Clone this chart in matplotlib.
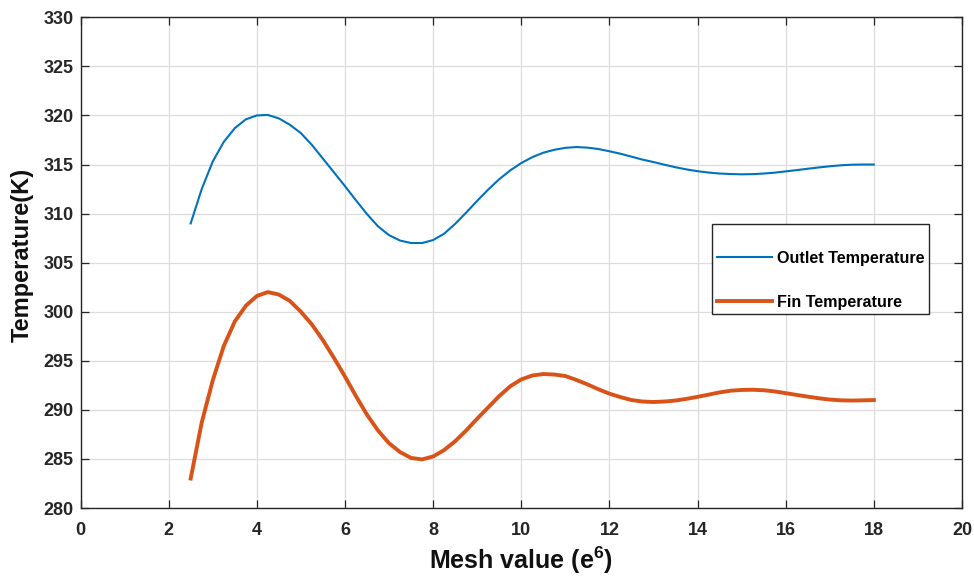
import matplotlib
matplotlib.use("Agg")
import matplotlib.pyplot as plt
from matplotlib.patches import Rectangle

plt.rcParams['font.family'] = ['Liberation Sans', 'DejaVu Sans']
plt.rcParams['mathtext.fontset'] = 'custom'
plt.rcParams['mathtext.rm'] = 'Liberation Sans:bold'
plt.rcParams['mathtext.bf'] = 'Liberation Sans:bold'
plt.rcParams['mathtext.it'] = 'Liberation Sans:bold'

mesh = [2.5, 2.75, 3.0, 3.25, 3.5, 3.75, 4.0, 4.25, 4.5, 4.75, 5.0, 5.25, 5.5, 5.75,
        6.0, 6.25, 6.5, 6.75, 7.0, 7.25, 7.5, 7.75, 8.0, 8.25, 8.5, 8.75, 9.0, 9.25,
        9.5, 9.75, 10.0, 10.25, 10.5, 10.75, 11.0, 11.25, 11.5, 11.75, 12.0, 12.25,
        12.5, 12.75, 13.0, 13.25, 13.5, 13.75, 14.0, 14.25, 14.5, 14.75, 15.0, 15.25,
        15.5, 15.75, 16.0, 16.25, 16.5, 16.75, 17.0, 17.25, 17.5, 17.75, 18.0]

outlet_temp = [309.0, 312.5, 315.3, 317.3, 318.7, 319.6, 320.0, 320.05, 319.7, 319.05,
               318.2, 317.0, 315.6, 314.2, 312.8, 311.35, 309.95, 308.7, 307.8, 307.25,
               307.0, 307.0, 307.3, 307.95, 308.95, 310.1, 311.3, 312.45, 313.5, 314.4,
               315.15, 315.75, 316.2, 316.5, 316.7, 316.78, 316.72, 316.58, 316.35, 316.1,
               315.8, 315.5, 315.25, 314.98, 314.72, 314.5, 314.32, 314.18, 314.08, 314.03,
               314.0, 314.02, 314.08, 314.17, 314.3, 314.43, 314.57, 314.7, 314.82, 314.92,
               314.98, 315.0, 315.0]

fin_temp = [283.0, 288.7, 293.0, 296.5, 299.0, 300.6, 301.6, 302.0, 301.75, 301.1,
            300.0, 298.7, 297.1, 295.3, 293.4, 291.4, 289.5, 287.9, 286.6, 285.7,
            285.1, 284.95, 285.25, 285.9, 286.8, 287.9, 289.1, 290.25, 291.4, 292.4,
            293.1, 293.5, 293.65, 293.6, 293.45, 293.05, 292.6, 292.1, 291.65, 291.3,
            291.0, 290.85, 290.8, 290.85, 290.95, 291.12, 291.33, 291.55, 291.78, 291.95,
            292.03, 292.05, 292.0, 291.88, 291.7, 291.52, 291.35, 291.18, 291.05, 290.97,
            290.95, 290.97, 291.0]

x_ticks = [0, 2, 4, 6, 8, 10, 12, 14, 16, 18, 20]
y_ticks = [280, 285, 290, 295, 300, 305, 310, 315, 320, 325, 330]
series_labels = ['Outlet Temperature', 'Fin Temperature']

W, H = 974, 578
fig = plt.figure(figsize=(W / 100, H / 100), dpi=100)
ax = fig.add_axes([80.5 / W, 1 - 508 / H, (962 - 80.5) / W, (508 - 17.3) / H])

ax.plot(mesh, outlet_temp, color='#0072BD', lw=1.5, label=series_labels[0])
ax.plot(mesh, fin_temp, color='#D95319', lw=2.8, label=series_labels[1])

ax.set_xlim(0, 20)
ax.set_ylim(280, 330)
ax.set_xticks(x_ticks)
ax.set_yticks(y_ticks)

ax.grid(True, color='#dcdcdc', lw=0.9)
ax.set_axisbelow(True)

for s in ax.spines.values():
    s.set_color('#262626')
    s.set_linewidth(1.0)

ax.tick_params(axis='both', which='both', direction='in', length=6, width=0.9,
               color='#262626', top=True, right=True, labelsize=13,
               labelcolor='#262626')
ax.tick_params(axis='x', pad=10)
ax.tick_params(axis='y', pad=5)
for lbl in ax.get_xticklabels() + ax.get_yticklabels():
    lbl.set_fontweight('bold')

ax.set_xlabel(r'Mesh value (e$^{6}$)', fontsize=18, fontweight='bold', color='#111111')
ax.xaxis.set_label_coords(0.4997, (508 - 578) / 490.7 + 0.005)
ax.xaxis.label.set_va('bottom')
ax.set_ylabel('Temperature(K)', fontsize=17, fontweight='bold', color='#111111')
ax.yaxis.set_label_coords((34 - 80.5) / 881.5, 0.515)

# legend box (MATLAB style, extra space above entries)
rect = Rectangle((712 / W, 1 - 314 / H), 217 / W, 90 / H, transform=fig.transFigure,
                 facecolor='white', edgecolor='#262626', lw=1.0, zorder=4, clip_on=False)
ax.add_patch(rect)

leg = ax.legend(loc='center left', bbox_to_anchor=(717 / W, 1 - 280 / H),
                bbox_transform=fig.transFigure, frameon=False, borderpad=0,
                borderaxespad=0, handlelength=3.4, handletextpad=0.3,
                labelspacing=1.8, prop={'weight': 'bold', 'size': 11.6})
leg.set_zorder(5)

fig.savefig('out.png', dpi=100)
